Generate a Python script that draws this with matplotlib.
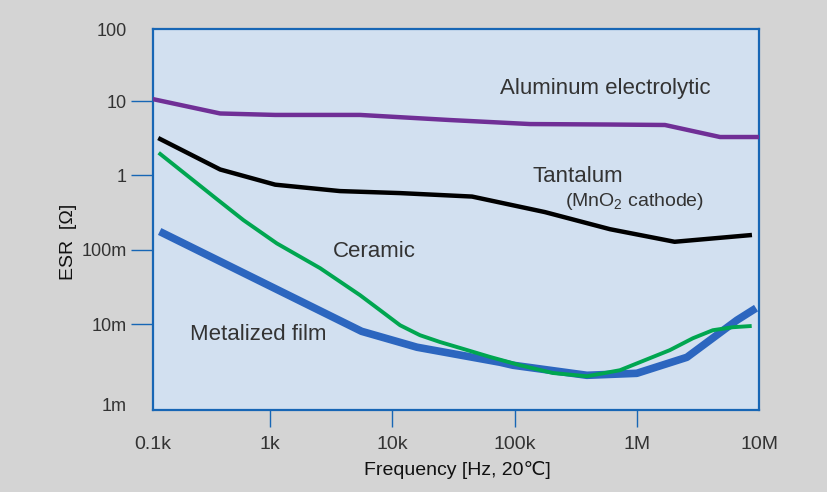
import matplotlib
matplotlib.use("Agg")
import matplotlib.pyplot as plt
from matplotlib.ticker import NullLocator

plt.rcParams['font.family'] = ['Liberation Sans', 'DejaVu Sans']
plt.rcParams['mathtext.fontset'] = 'custom'
plt.rcParams['mathtext.rm'] = 'Liberation Sans'
plt.rcParams['mathtext.it'] = 'Liberation Sans'

# ---- data ----
alu_f = [110, 390, 1100, 5440, 29600, 134000, 603000, 1.7e6, 4.8e6, 9.6e6]
alu_r = [10.6, 6.8, 6.5, 6.5, 5.55, 4.9, 4.83, 4.76, 3.28, 3.28]

tan_f = [126, 390, 1100, 3730, 11560, 44900, 177000, 603000, 2.04e6, 8.4e6]
tan_r = [3.08, 1.2, 0.75, 0.615, 0.578, 0.519, 0.321, 0.189, 0.128, 0.157]

cer_f = [126, 366, 605, 1135, 2565, 5440, 7930, 11560, 16800, 24500, 35800,
         63000, 111000, 206000, 391000, 728000, 1.86e6, 2.88e6, 4.19e6,
         6.1e6, 8.4e6]
cer_r = [1.94, 0.48, 0.25, 0.1216, 0.0565, 0.0245, 0.0154, 0.00966, 0.0071,
         0.00575, 0.00478, 0.00362, 0.0028, 0.0022, 0.00199, 0.0024, 0.00446,
         0.00646, 0.00828, 0.00908, 0.0094]

film_f = [133, 5600, 15900, 76000, 97000, 391000, 1.0e6, 2.57e6, 6.6e6, 8.9e6]
film_r = [0.167, 0.0080, 0.00489, 0.00307, 0.0028, 0.00205, 0.00218,
          0.00358, 0.0113, 0.0154]

x_ticks = [110, 1e3, 1e4, 1e5, 1e6, 1e7]
x_labels = ['0.1k', '1k', '10k', '100k', '1M', '10M']
y_ticks = [93, 10, 1, 0.1, 0.01, 8.2e-4]
y_labels = ['100', '10', '1', '100m', '10m', '1m']

# ---- figure ----
fig = plt.figure(figsize=(8.28, 4.92), dpi=100, facecolor='#d4d4d4')
ax = fig.add_axes([153/828, 82/492, 606/828, 381/492])
ax.set_facecolor('#d2e0f0')
ax.set_xscale('log')
ax.set_yscale('log')
ax.set_xlim(110, 1e7)
ax.set_ylim(7e-4, 93)

spine_c = '#1766b5'
for s in ax.spines.values():
    s.set_color(spine_c)
    s.set_linewidth(1.6)

ax.plot(alu_f, alu_r, color='#702f96', lw=3.2, solid_joinstyle='round', zorder=3)
ax.plot(tan_f, tan_r, color='#000000', lw=3.2, solid_joinstyle='round', zorder=3)
ax.plot(film_f, film_r, color='#2c66bf', lw=5.5, solid_joinstyle='round', zorder=3)
ax.plot(cer_f, cer_r, color='#00a650', lw=2.8, solid_joinstyle='round', zorder=4)

ax.set_xticks(x_ticks)
ax.set_xticklabels(x_labels)
ax.set_yticks(y_ticks)
ax.set_yticklabels(y_labels)
ax.xaxis.set_minor_locator(NullLocator())
ax.yaxis.set_minor_locator(NullLocator())
ax.tick_params(axis='x', direction='out', length=12, width=1, color=spine_c,
               labelsize=14, labelcolor='#333333', pad=7)
ax.tick_params(axis='y', direction='out', length=16, width=1, color=spine_c,
               labelsize=13, labelcolor='#333333', pad=3)
xt = ax.xaxis.get_major_ticks()
for i in (0, len(xt) - 1):
    xt[i].tick1line.set_visible(False)
yt = ax.yaxis.get_major_ticks()
for i in (0, len(yt) - 1):
    yt[i].tick1line.set_visible(False)

tc = '#333333'
ax.text(0.5726, 0.845, 'Aluminum electrolytic', transform=ax.transAxes,
        fontsize=16, color=tc, ha='left', va='center')
ax.text(0.627, 0.614, 'Tantalum', transform=ax.transAxes,
        fontsize=16, color=tc, ha='left', va='center')
ax.text(0.680, 0.546, '(MnO$_2$ cathode)', transform=ax.transAxes,
        fontsize=14, color=tc, ha='left', va='center')
ax.text(0.297, 0.417, 'Ceramic', transform=ax.transAxes,
        fontsize=16, color=tc, ha='left', va='center')
ax.text(0.061, 0.197, 'Metalized film', transform=ax.transAxes,
        fontsize=16, color=tc, ha='left', va='center')

fig.text(69/828, 1 - 242/492, 'ESR  [Ω]', rotation=90, fontsize=14,
         color='#111111', ha='center', va='center')
fig.text(457/828, 1 - 470/492, 'Frequency [Hz, 20℃]', fontsize=14,
         color='#111111', ha='center', va='center')

fig.savefig('out.png', dpi=100, facecolor=fig.get_facecolor())
